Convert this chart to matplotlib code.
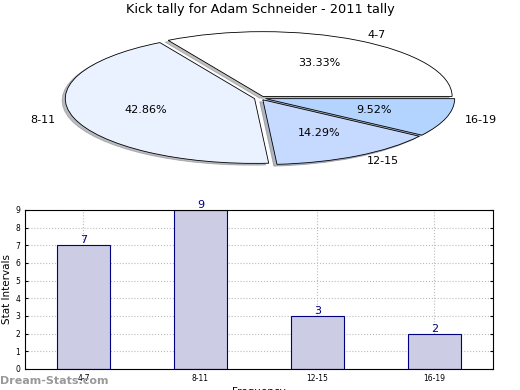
import matplotlib
matplotlib.use("Agg")
import matplotlib.pyplot as plt

categories = ["4-7", "8-11", "12-15", "16-19"]
counts = [7, 9, 3, 2]
pie_colors = ["#FFFFFF", "#EAF1FF", "#C6D9FF", "#B3D4FF"]
title = "Kick tally for Adam Schneider - 2011 tally"

fig = plt.figure(figsize=(5.2, 3.9), dpi=100)

ax_pie = fig.add_axes([0.045, 0.541, 0.91, 0.415])
wedges, texts, autotexts = ax_pie.pie(
    counts, labels=categories, colors=pie_colors, autopct="%.2f%%",
    explode=[0.03, 0.03, 0.03, 0.03],
    shadow={"ox": -0.012, "oy": -0.02, "shade": 0.5}, startangle=0,
    wedgeprops=dict(edgecolor="black", linewidth=0.6),
    textprops=dict(fontsize=8))
ax_pie.set_aspect("auto")
ax_pie.set_xlim(-1.25, 1.25)
ax_pie.set_ylim(-1.25, 1.25)
fig.text(0.5, 0.975, title, ha="center", va="center", fontsize=9.3)

ax = fig.add_axes([0.048, 0.054, 0.9, 0.408])
x = list(range(len(categories)))
ax.bar(x, counts, width=0.45, color="#CCCCE5", edgecolor="#000080", linewidth=0.8, zorder=2)
for xi, v in zip(x, counts):
    ax.text(xi, v, str(v), ha="center", va="bottom", fontsize=8, color="#000080")
ax.set_xlim(-0.5, 3.5)
ax.set_ylim(0, 9)
ax.set_yticks(range(10))
ax.set_xticks(x)
ax.set_xticklabels(categories)
ax.tick_params(labelsize=5.5, direction="in", right=True, length=2)
ax.grid(True, linestyle=":", color="#bbbbbb", linewidth=0.8, zorder=0)
ax.set_ylabel("Stat Intervals", fontsize=7.5, labelpad=2)
ax.set_xlabel("Frequency", fontsize=7.5, labelpad=3)

fig.text(0.0, 0.022, "Dream-Stats.com", fontsize=8, color="#999999",
         fontweight="bold", ha="left", va="center")

fig.savefig("out.png", dpi=100)
